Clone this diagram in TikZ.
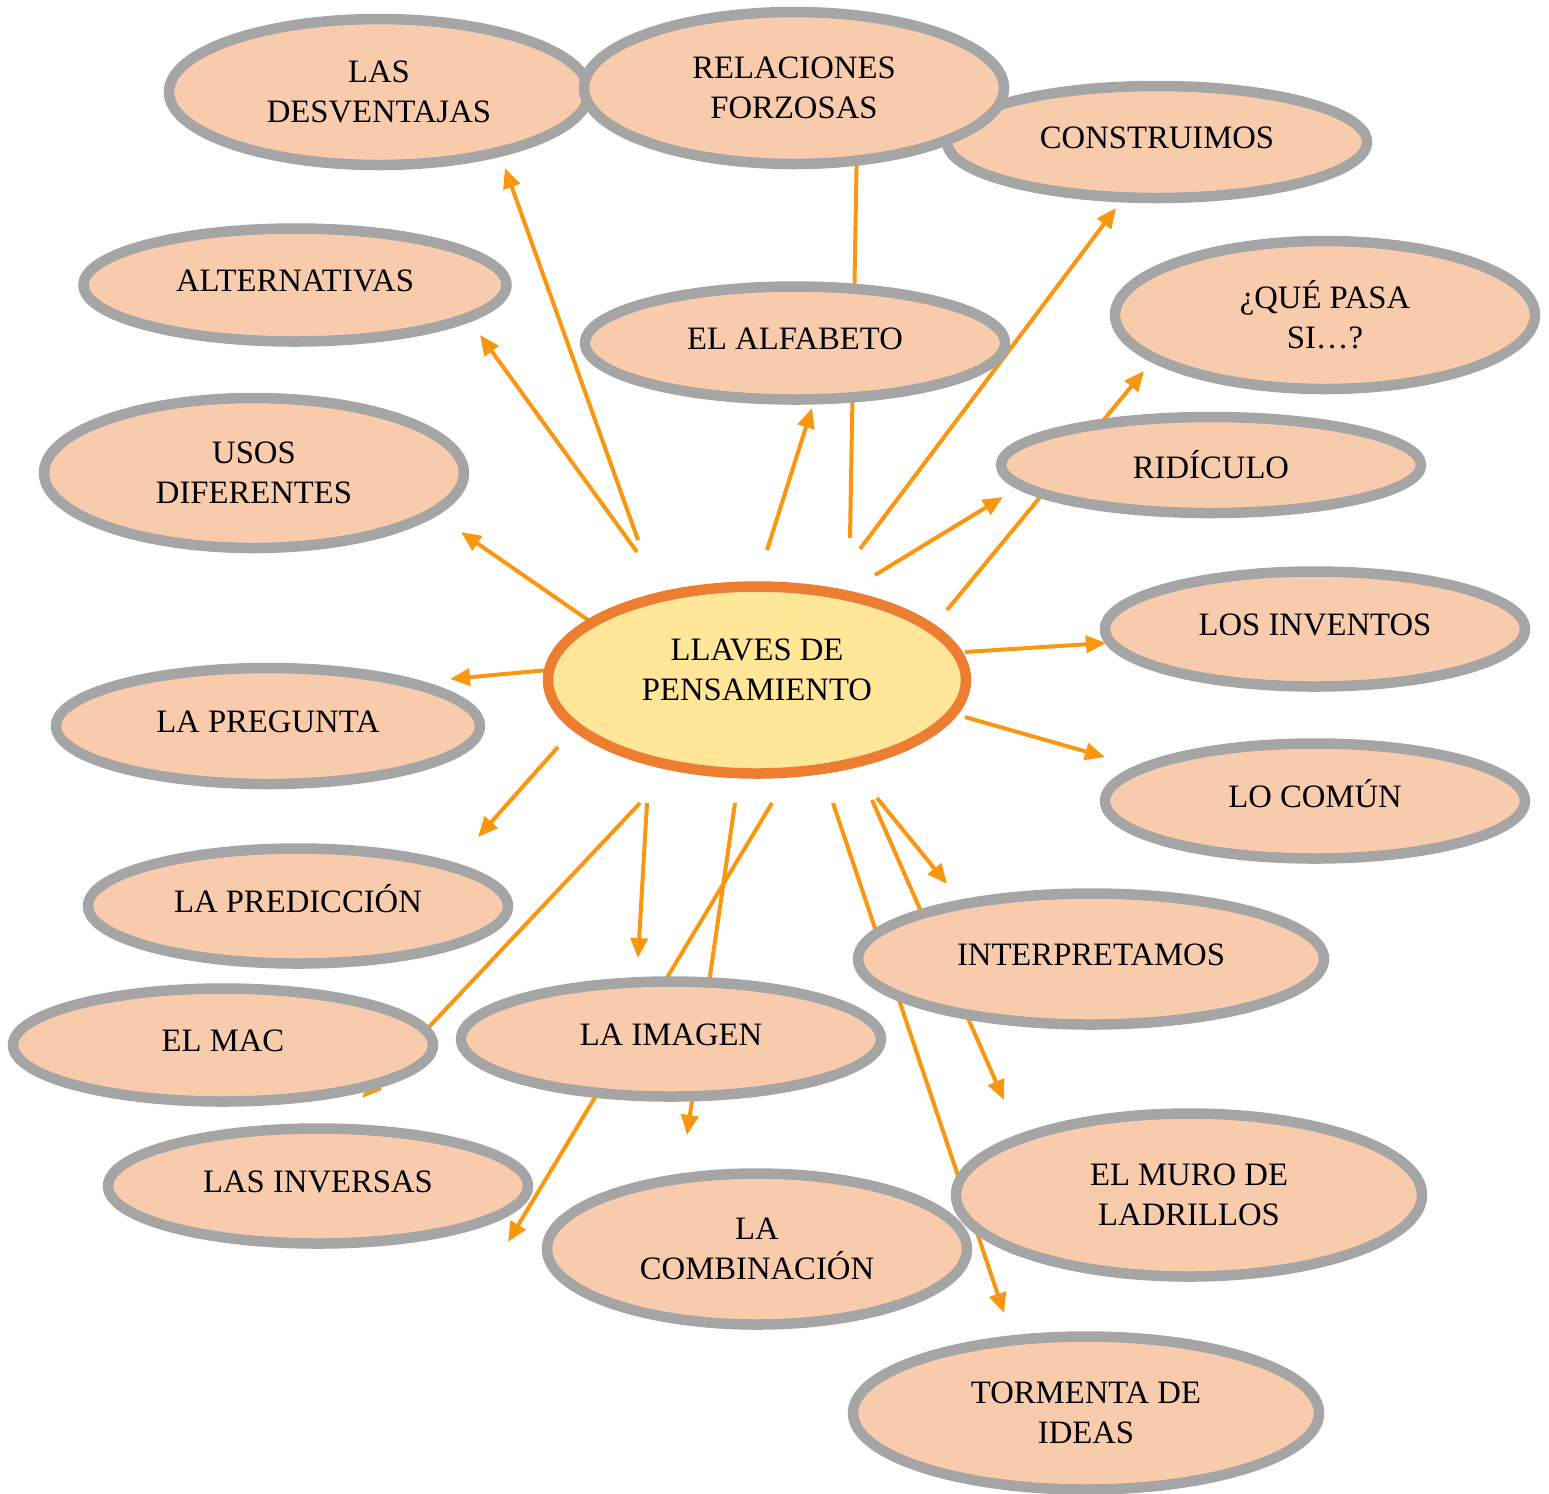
\documentclass[tikz,border=0pt]{standalone}
\usepackage{fontspec}
\setmainfont{Liberation Serif}
\usetikzlibrary{shapes.geometric,arrows.meta}
\definecolor{peach}{HTML}{F8CBAD}
\definecolor{rimgray}{HTML}{A5A5A5}
\definecolor{hubfill}{HTML}{FFE699}
\definecolor{hubrim}{HTML}{ED7D31}
\definecolor{rayorange}{HTML}{FA960F}
\tikzset{
  idea/.style={ellipse,draw=rimgray,fill=peach,line width=1.05mm,inner sep=0pt,
    minimum width=42mm,minimum height=11.3mm,align=center,
    font=\fontsize{9.3}{11.4}\selectfont},
  oneline/.style={text height=2.2mm,text depth=1mm},
  hub/.style={idea,draw=hubrim,fill=hubfill,text depth=2mm},
  ray/.style={draw=rayorange,line width=0.4mm,-{Triangle[length=2mm,width=1.7mm]}}
}
\begin{document}
\begin{tikzpicture}[x=0.1mm,y=-0.1mm]
\useasboundingbox (0,0) rectangle (1549,1493);
% arrow ends
\coordinate (s1) at (638,540);  \coordinate (t1) at (505,168);
\coordinate (s2) at (637,552);  \coordinate (t2) at (480,335);
\coordinate (s3) at (588,620);  \coordinate (t3) at (461,532);
\coordinate (s4) at (548,670);  \coordinate (t4) at (450,679);
\coordinate (s5) at (558,747);  \coordinate (t5) at (478,837);
\coordinate (s6) at (640,803);  \coordinate (t6) at (362,1098);
\coordinate (s7) at (647,803);  \coordinate (t7) at (638,958);
\coordinate (s8) at (735,803);  \coordinate (t8) at (687,1135);
\coordinate (s9) at (772,803);  \coordinate (t9) at (508,1242);
\coordinate (s10) at (833,803); \coordinate (t10) at (1004,1313);
\coordinate (s11) at (872,800); \coordinate (t11) at (1004,1100);
\coordinate (s12) at (877,798); \coordinate (t12) at (947,884);
\coordinate (s13) at (965,717); \coordinate (t13) at (1105,757);
\coordinate (s14) at (965,652); \coordinate (t14) at (1106,643);
\coordinate (s15) at (947,610); \coordinate (t15) at (1144,371);
\coordinate (s16) at (875,575); \coordinate (t16) at (1003,497);
\coordinate (s17) at (860,549); \coordinate (t17) at (1116,208);
\coordinate (s18) at (850,538); \coordinate (t18) at (857,140);
\coordinate (s19) at (767,550); \coordinate (t19) at (812,408);
% arrows
\draw[ray] (s1) -- (t1);
\draw[ray] (s2) -- (t2);
\draw[ray] (s3) -- (t3);
\draw[ray] (s4) -- (t4);
\draw[ray] (s5) -- (t5);
\draw[ray] (s6) -- (t6);
\draw[ray] (s7) -- (t7);
\draw[ray] (s8) -- (t8);
\draw[ray] (s9) -- (t9);
\draw[ray] (s10) -- (t10);
\draw[ray] (s11) -- (t11);
\draw[ray] (s12) -- (t12);
\draw[ray] (s13) -- (t13);
\draw[ray] (s14) -- (t14);
\draw[ray] (s15) -- (t15);
\draw[ray] (s16) -- (t16);
\draw[ray] (s17) -- (t17);
\draw[ray] (s18) -- (t18);
\draw[ray] (s19) -- (t19);
% top row
\node[idea,minimum height=14.6mm] (desventajas) at (379,92) {LAS\\DESVENTAJAS};
\node[idea,oneline,minimum height=11.2mm] (construimos) at (1157,142) {CONSTRUIMOS};
\node[idea,minimum height=15.2mm] (relaciones) at (794,88) {RELACIONES\\FORZOSAS};
% left side
\node[idea,oneline,minimum width=42.3mm] (alternativas) at (295,285) {ALTERNATIVAS};
\node[idea,minimum height=15mm] (usos) at (254,473) {USOS\\DIFERENTES};
\node[idea,oneline,minimum width=42.4mm,minimum height=11.6mm] (pregunta) at (268,726) {LA PREGUNTA};
\node[idea,oneline,minimum height=11.5mm] (prediccion) at (298,906) {LA PREDICCIÓN};
\node[idea,oneline] (mac) at (223,1045) {EL MAC};
\node[idea,oneline,minimum height=11.5mm] (inversas) at (318,1186) {LAS INVERSAS};
% middle
\node[idea,oneline] (alfabeto) at (795,343) {EL ALFABETO};
\node[hub,minimum width=41.8mm,minimum height=18.7mm] (llaves) at (757,680) {LLAVES DE\\PENSAMIENTO};
\node[idea,oneline,minimum height=11.5mm] (imagen) at (671,1039) {LA IMAGEN};
\node[idea,minimum height=15.1mm] (combinacion) at (757,1249) {LA\\COMBINACIÓN};
% right side
\node[idea,minimum height=14.8mm] (quepasa) at (1325,315) {¿QUÉ PASA\\SI…?};
\node[idea,minimum height=9.6mm] (ridiculo) at (1211,465) {RIDÍCULO};
\node[idea,oneline,minimum height=11.5mm] (inventos) at (1315,629) {LOS INVENTOS};
\node[idea,oneline,minimum height=11.5mm] (comun) at (1315,801) {LO COMÚN};
\node[idea,oneline,minimum width=46.6mm,minimum height=13.1mm] (interpretamos) at (1091,959) {INTERPRETAMOS};
\node[idea,minimum width=46.6mm,minimum height=16.3mm] (muro) at (1189,1195) {EL MURO DE\\LADRILLOS};
\node[idea,minimum width=46.6mm,minimum height=15.3mm] (tormenta) at (1086,1413) {TORMENTA DE\\IDEAS};
\end{tikzpicture}
\end{document}
